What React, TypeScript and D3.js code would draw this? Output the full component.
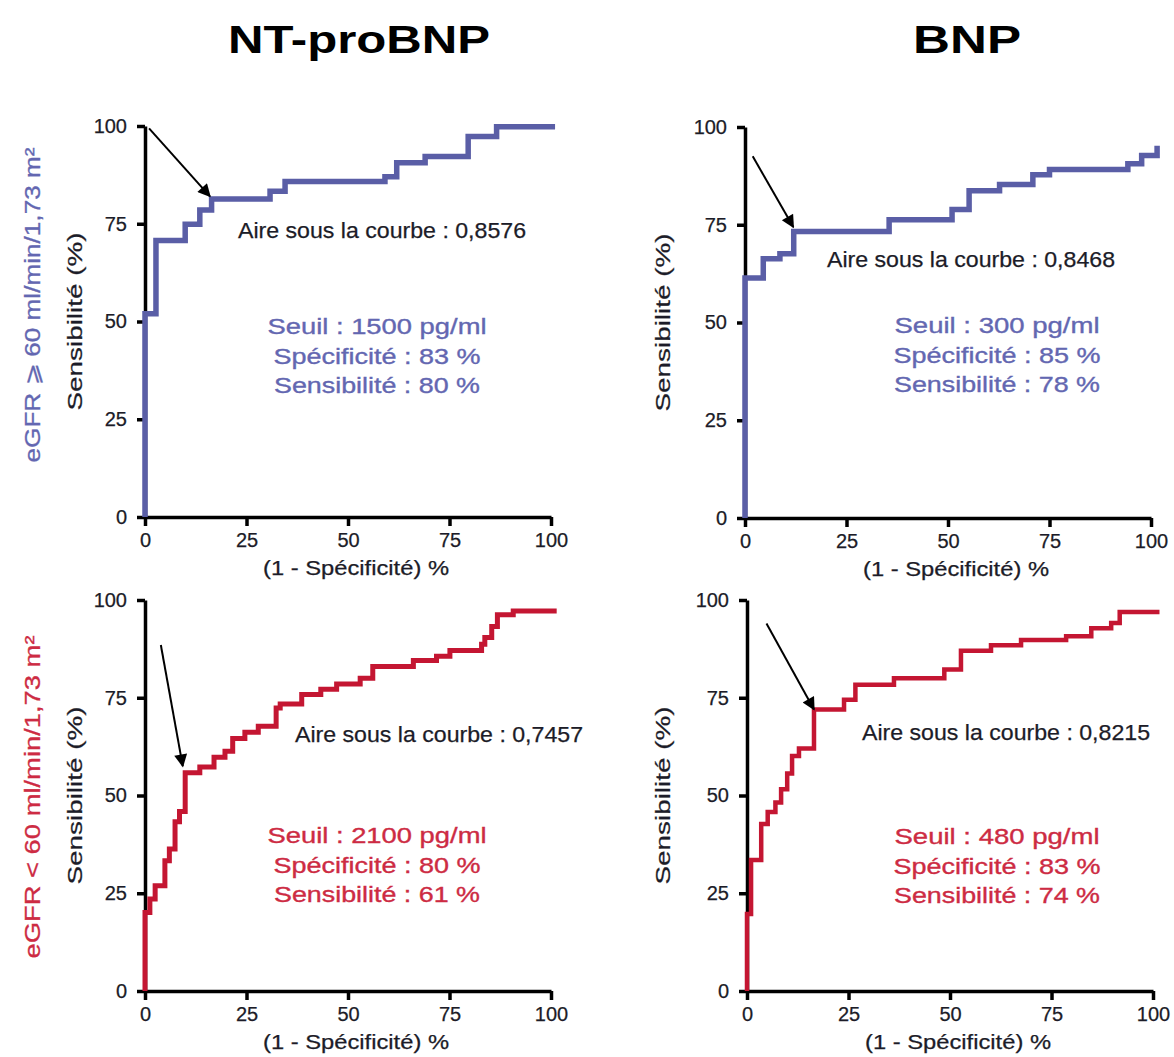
import React, { useRef, useEffect } from "react";
import * as d3 from "d3";

type Pt = [number, number];

// ROC points (1 - specificity %, sensitivity %)
const rocNtproHigh: Pt[] = [
  [0, 0], [0, 52], [2.7, 70.7], [9.9, 74.9], [13.5, 78.5], [16.4, 81.3],
  [30.8, 83.3], [34.5, 85.8], [59.1, 87], [62, 90.6], [69, 92.2],
  [79.6, 97.3], [86.6, 99.8], [101, 99.8],
];
const rocBnpHigh: Pt[] = [
  [0, 0], [0, 61.4], [4.5, 66.3], [8.6, 67.6], [12, 73.3], [35.5, 76.3],
  [51, 78.9], [55.2, 83.7], [62.7, 85.3], [70.9, 87.8], [75, 89.1],
  [94.3, 90.6], [97.7, 92.7], [101.5, 95.2],
];
const rocNtproLow: Pt[] = [
  [0, 0], [0, 20.1], [1.2, 23.5], [2.5, 26.9], [4.9, 33.3], [6, 36.3],
  [7.4, 43.3], [8.5, 45.9], [9.9, 55.8], [13.5, 57.3], [17, 59.8],
  [19.7, 61.3], [21.6, 64.6], [24.6, 66.2], [27.9, 67.7], [32.3, 72.4],
  [33.3, 73.4], [38.6, 75.8], [43.3, 77.2], [47.2, 78.5], [53, 80],
  [56.1, 83], [66.1, 84.5], [71.8, 85.6], [75.1, 87.1], [82.9, 88.7],
  [83.7, 90.4], [85.4, 93.2], [86.8, 96.2], [90.7, 97.2], [101.4, 97.2],
];
const rocBnpLow: Pt[] = [
  [0, 0], [0, 19.7], [1, 33.5], [3.5, 42.7], [5.1, 45.8], [7, 48.2],
  [8.4, 51.6], [9.9, 55.6], [11.1, 60.1], [12.8, 62], [16.5, 72],
  [23.9, 74.5], [26.7, 78.3], [36.2, 80], [48.6, 82.2], [52.7, 87],
  [60.1, 88.4], [67.5, 89.8], [78.6, 90.7], [84.8, 92.8], [89.7, 94.1],
  [91.8, 96.9], [101.6, 96.9],
];

// arrows pointing at the chosen cut-off: [from, to] in data units
const arrowFrom: Pt[] = [[1, 99.4], [1.9, 92.5], [3.9, 88.5], [4.8, 94]];
const arrowTo: Pt[] = [[16, 82], [11.9, 74.4], [9.3, 57.5], [16.5, 72]];

const columnTitles = ["NT-proBNP", "BNP"];
const rowLabels = ["eGFR \u2A7E 60 ml/min/1,73 m\u00B2", "eGFR < 60 ml/min/1,73 m\u00B2"];
const aucValues = ["0,8576", "0,8468", "0,7457", "0,8215"];
const cutoffs = ["1500", "300", "2100", "480"];
const specificities = [83, 85, 80, 83];
const sensitivities = [80, 78, 61, 74];
const tickValues = [0, 25, 50, 75, 100];

const W = 1174;
const H = 1057;
const PW = 406;
const PH = 391;
const BLUE = "#5a5ea6";
const RED = "#c41632";
const BLUE_TXT = "#6367b1";
const RED_TXT = "#cd2b43";
const INK = "#1c1c28";
const FONT = "'Liberation Sans', Arial, Helvetica, sans-serif";

const App: React.FC = () => {
  const svgRef = useRef<SVGSVGElement | null>(null);

  useEffect(() => {
    const svg = d3.select(svgRef.current);
    svg.selectAll("*").remove();
    svg.attr("font-family", FONT);

    svg.append("rect").attr("width", W).attr("height", H).attr("fill", "#fff");

    svg
      .append("defs")
      .append("marker")
      .attr("id", "arrowhead")
      .attr("viewBox", "0 0 10 10")
      .attr("refX", 9)
      .attr("refY", 5)
      .attr("markerWidth", 16)
      .attr("markerHeight", 13)
      .attr("markerUnits", "userSpaceOnUse")
      .attr("orient", "auto")
      .append("path")
      .attr("d", "M0,0 L10,5 L0,10 Z")
      .attr("fill", "#000");

    // Column titles
    const titleX = [359, 967];
    const titleLen = [262, 108];
    columnTitles.forEach((t, i) => {
      svg
        .append("text")
        .attr("x", titleX[i])
        .attr("y", 53)
        .attr("text-anchor", "middle")
        .attr("font-size", 38)
        .attr("font-weight", "bold")
        .attr("textLength", titleLen[i])
        .attr("lengthAdjust", "spacingAndGlyphs")
        .text(t);
    });

    // Row labels
    const rowY = [305, 797];
    const rowLen = [315, 323];
    rowLabels.forEach((t, i) => {
      const c = i === 0 ? BLUE_TXT : RED_TXT;
      svg
        .append("text")
        .attr("transform", `translate(40,${rowY[i]}) rotate(-90)`)
        .attr("text-anchor", "middle")
        .attr("font-size", 22)
        .attr("fill", c)
        .attr("stroke", c)
        .attr("stroke-width", 0.3)
        .attr("textLength", rowLen[i])
        .attr("lengthAdjust", "spacingAndGlyphs")
        .text(t);
    });

    const panels = [
      { data: rocNtproHigh, x0: 145, y0: 126, color: BLUE, txt: BLUE_TXT, auc: [93, 112], stats: [232, 208], ylab: 82, sw: 5.5 },
      { data: rocBnpHigh, x0: 745, y0: 127, color: BLUE, txt: BLUE_TXT, auc: [82, 140], stats: [252, 206], ylab: 670, sw: 5.5 },
      { data: rocNtproLow, x0: 145, y0: 600, color: RED, txt: RED_TXT, auc: [150, 142], stats: [232, 243], ylab: 82, sw: 5 },
      { data: rocBnpLow, x0: 747, y0: 600, color: RED, txt: RED_TXT, auc: [115, 140], stats: [250, 244], ylab: 670, sw: 4.5 },
    ];

    panels.forEach((p, i) => {
      const x = d3.scaleLinear().domain([0, 100]).range([p.x0, p.x0 + PW]);
      const y = d3.scaleLinear().domain([0, 100]).range([p.y0 + PH, p.y0]);
      const g = svg.append("g");

      // Axes
      const xg = g
        .append("g")
        .attr("transform", `translate(0,${y(0)})`)
        .call(d3.axisBottom(x).tickValues(tickValues).tickSize(9).tickSizeOuter(0).tickPadding(7));
      const yg = g
        .append("g")
        .attr("transform", `translate(${x(0)},0)`)
        .call(d3.axisLeft(y).tickValues(tickValues).tickSize(8).tickSizeOuter(0).tickPadding(10));
      [xg, yg].forEach((ag) => {
        ag.attr("font-family", FONT).attr("font-size", 20);
        ag.select(".domain").attr("stroke", "#000").attr("stroke-width", 3.5);
        ag.selectAll(".tick line").attr("stroke", "#000").attr("stroke-width", 3.5);
        ag.selectAll(".tick text").attr("fill", INK).attr("stroke", INK).attr("stroke-width", 0.25);
      });

      // Axis labels
      g.append("text")
        .attr("x", p.x0 + PW / 2 + 8)
        .attr("y", p.y0 + PH + 58)
        .attr("text-anchor", "middle")
        .attr("font-size", 20)
        .attr("fill", INK)
        .attr("stroke", INK)
        .attr("stroke-width", 0.25)
        .attr("textLength", 186)
        .attr("lengthAdjust", "spacingAndGlyphs")
        .text("(1 - Spécificité) %");
      g.append("text")
        .attr("transform", `translate(${p.ylab},${p.y0 + PH / 2}) rotate(-90)`)
        .attr("text-anchor", "middle")
        .attr("font-size", 21)
        .attr("fill", INK)
        .attr("stroke", INK)
        .attr("stroke-width", 0.25)
        .attr("textLength", 178)
        .attr("lengthAdjust", "spacingAndGlyphs")
        .text("Sensibilité (%)");

      // ROC step curve
      const line = d3
        .line<Pt>()
        .x((d) => x(d[0]))
        .y((d) => y(d[1]))
        .curve(d3.curveStepAfter);
      g.append("path")
        .datum(p.data)
        .attr("fill", "none")
        .attr("stroke", p.color)
        .attr("stroke-width", p.sw)
        .attr("stroke-linejoin", "miter")
        .attr("d", line);

      // Arrow to the cut-off
      g.append("line")
        .attr("x1", x(arrowFrom[i][0]))
        .attr("y1", y(arrowFrom[i][1]))
        .attr("x2", x(arrowTo[i][0]))
        .attr("y2", y(arrowTo[i][1]))
        .attr("stroke", "#000")
        .attr("stroke-width", 2)
        .attr("marker-end", "url(#arrowhead)");

      // AUC
      g.append("text")
        .attr("x", p.x0 + p.auc[0])
        .attr("y", p.y0 + p.auc[1])
        .attr("font-size", 22)
        .attr("fill", INK)
        .attr("stroke", INK)
        .attr("stroke-width", 0.25)
        .attr("textLength", 288)
        .attr("lengthAdjust", "spacingAndGlyphs")
        .text(`Aire sous la courbe : ${aucValues[i]}`);

      // Threshold stats
      const lines = [
        `Seuil : ${cutoffs[i]} pg/ml`,
        `Spécificité : ${specificities[i]} %`,
        `Sensibilité : ${sensitivities[i]} %`,
      ];
      const lens = [cutoffs[i].length > 3 ? 219 : 205, 207, 206];
      lines.forEach((t, k) => {
        g.append("text")
          .attr("x", p.x0 + p.stats[0])
          .attr("y", p.y0 + p.stats[1] + k * 29.5)
          .attr("text-anchor", "middle")
          .attr("font-size", 22)
          .attr("fill", p.txt)
          .attr("stroke", p.txt)
          .attr("stroke-width", 0.35)
          .attr("textLength", lens[k])
          .attr("lengthAdjust", "spacingAndGlyphs")
          .text(t);
      });
    });
  }, []);

  return (
    <svg
      ref={svgRef}
      width={W}
      height={H}
      style={{ position: "absolute", left: 0, top: 0 }}
    />
  );
};

export default App;
